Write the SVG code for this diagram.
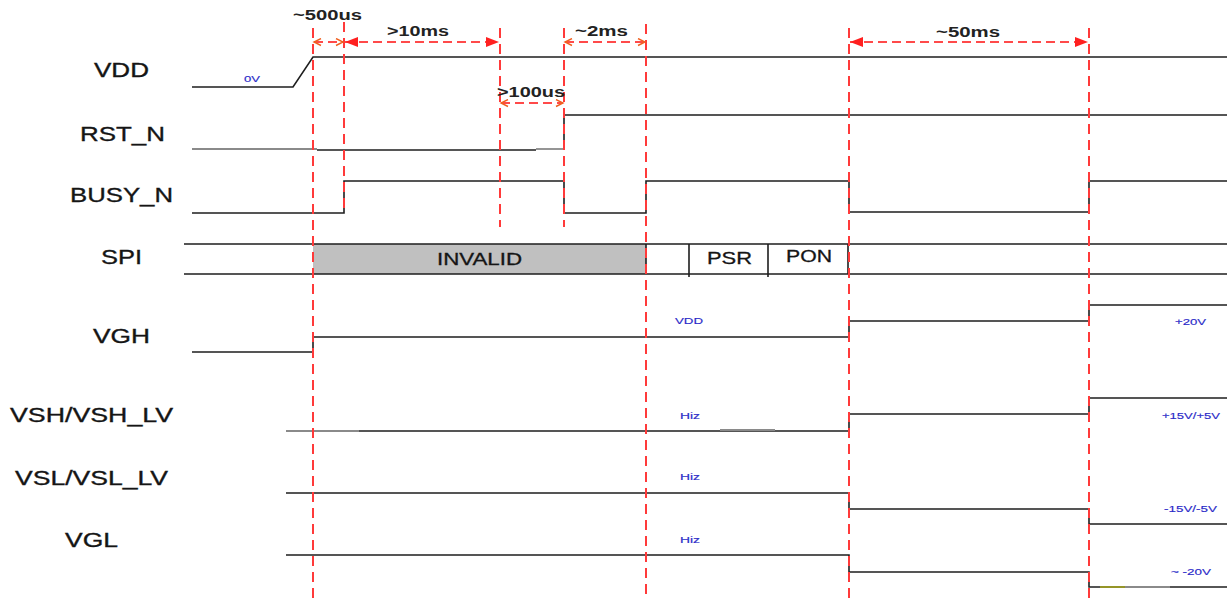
<svg xmlns="http://www.w3.org/2000/svg" width="1227" height="598" viewBox="0 0 1227 598">
<style>
.sig{fill:none;stroke:#1e1e1e;stroke-width:1.6}
.gry{fill:none;stroke:#8a8a8a;stroke-width:1.8}
.lbl{font-family:"Liberation Sans",Arial,sans-serif;font-size:21px;fill:#151515;stroke:#151515;stroke-width:0.35}
.tm{font-family:"Liberation Sans",Arial,sans-serif;font-size:14px;font-weight:bold;fill:#222}
.box{font-family:"Liberation Sans",Arial,sans-serif;font-size:17px;fill:#151515;stroke:#151515;stroke-width:0.3}
.sm{font-family:"Liberation Sans",Arial,sans-serif;font-size:9.5px;fill:#2a2ac8;stroke:#2a2ac8;stroke-width:0.15}
.vl{fill:none;stroke:#ff3a3a;stroke-width:2;stroke-dasharray:10,6}
.ar{fill:none;stroke:#ff4a4a;stroke-width:2;stroke-dasharray:9,5}
</style>
<defs>
<marker id="tri" markerUnits="userSpaceOnUse" markerWidth="14" markerHeight="12" refX="13" refY="5" orient="auto-start-reverse" viewBox="0 0 14 10">
<path d="M0,0 L13,5 L0,10 z" fill="#ff2020"/>
</marker>
<marker id="chev" markerUnits="userSpaceOnUse" markerWidth="10" markerHeight="9" refX="8" refY="4" orient="auto-start-reverse" viewBox="0 0 10 8">
<path d="M1,0.5 L8,4 L1,7.5" fill="none" stroke="#f06020" stroke-width="1.4"/>
</marker>
</defs>
<rect width="1227" height="598" fill="#fff"/>

<g id="labels">
<text class="lbl" x="94" y="77" textLength="55" lengthAdjust="spacingAndGlyphs">VDD</text>
<text class="lbl" x="80" y="141" textLength="85" lengthAdjust="spacingAndGlyphs">RST_N</text>
<text class="lbl" x="70" y="202" textLength="103" lengthAdjust="spacingAndGlyphs">BUSY_N</text>
<text class="lbl" x="101" y="264" textLength="41" lengthAdjust="spacingAndGlyphs">SPI</text>
<text class="lbl" x="93" y="343" textLength="57" lengthAdjust="spacingAndGlyphs">VGH</text>
<text class="lbl" x="10" y="422" textLength="163" lengthAdjust="spacingAndGlyphs">VSH/VSH_LV</text>
<text class="lbl" x="15" y="485" textLength="153" lengthAdjust="spacingAndGlyphs">VSL/VSL_LV</text>
<text class="lbl" x="65" y="547" textLength="53" lengthAdjust="spacingAndGlyphs">VGL</text>
</g>

<g id="vdd">
<path class="sig" d="M192,87 H293 L313,57 H1227"/>
<text class="sm" x="244" y="82" textLength="16" lengthAdjust="spacingAndGlyphs">0V</text>
</g>

<g id="rst_n">
<path class="gry" d="M192,149 H317"/>
<path class="sig" d="M317,150 H536"/>
<path class="gry" d="M536,149 H564"/>
<path class="sig" d="M564,149 V115 H1227"/>
</g>

<g id="busy_n">
<path class="sig" d="M192,213 H344 V181 H564 V213 H646 V181 H849 V212 H1089 V181 H1227"/>
</g>

<g id="spi">
<rect x="313" y="244" width="333" height="30" fill="#c0c0c0" stroke="none"/>
<path class="sig" d="M184,244 H1227 M184,274 H1227 M646,244 V274 M689,244 V277 M768,244 V277 M848,244 V274"/>
<text class="box" x="437" y="265" textLength="85" lengthAdjust="spacingAndGlyphs">INVALID</text>
<text class="box" x="707" y="264" textLength="45" lengthAdjust="spacingAndGlyphs">PSR</text>
<text class="box" x="786" y="262" textLength="46" lengthAdjust="spacingAndGlyphs">PON</text>
</g>

<g id="vgh">
<path class="sig" d="M192,352 H313 V337 H849 V321 H1089 V305 H1227"/>
<text class="sm" x="675" y="324" textLength="28" lengthAdjust="spacingAndGlyphs">VDD</text>
<text class="sm" x="1175" y="325" textLength="31" lengthAdjust="spacingAndGlyphs">+20V</text>
</g>

<g id="vsh">
<path class="gry" d="M286,431 H359"/>
<path class="sig" d="M359,431 H849 V414 H1089 V398 H1227"/>
<path class="gry" d="M720,430 H775" stroke-width="1.2"/>
<text class="sm" x="680" y="419" textLength="20" lengthAdjust="spacingAndGlyphs">Hiz</text>
<text class="sm" x="1162" y="419" textLength="58" lengthAdjust="spacingAndGlyphs">+15V/+5V</text>
</g>

<g id="vsl">
<path class="sig" d="M286,493 H849 V509 H1089 V524 H1227"/>
<text class="sm" x="680" y="480" textLength="20" lengthAdjust="spacingAndGlyphs">Hiz</text>
<text class="sm" x="1164" y="512" textLength="53" lengthAdjust="spacingAndGlyphs">-15V/-5V</text>
</g>

<g id="vgl">
<path class="sig" d="M286,555 H849 V572 H1089 V587 H1100"/>
<path d="M1100,587 H1125" stroke="#8a8a10" stroke-width="1.8"/>
<path class="gry" d="M1125,587 H1170"/>
<path class="sig" d="M1170,587 H1227"/>
<text class="sm" x="680" y="543" textLength="20" lengthAdjust="spacingAndGlyphs">Hiz</text>
<text class="sm" x="1171" y="575" textLength="40" lengthAdjust="spacingAndGlyphs">~ -20V</text>
</g>

<g id="connectors">
<path class="vl" d="M313,28 V598"/>
<path class="vl" d="M344,22 V213"/>
<path class="vl" d="M500,28 V227"/>
<path class="vl" d="M564,28 V227"/>
<path class="vl" d="M646,24 V598"/>
<path class="vl" d="M849,28 V598"/>
<path class="vl" d="M1089,28 V598"/>
<path class="ar" d="M314,42 H343" marker-start="url(#chev)" marker-end="url(#chev)"/>
<path class="ar" d="M345,42 H499" marker-start="url(#tri)" marker-end="url(#tri)"/>
<path class="ar" d="M565,42 H645" marker-start="url(#chev)" marker-end="url(#chev)"/>
<path class="ar" d="M850,42 H1088" marker-start="url(#tri)" marker-end="url(#tri)"/>
<path class="ar" d="M501,103 H563" marker-start="url(#chev)" marker-end="url(#chev)"/>
<text class="tm" x="293" y="20" textLength="69" lengthAdjust="spacingAndGlyphs">~500us</text>
<text class="tm" x="387" y="36" textLength="62" lengthAdjust="spacingAndGlyphs">&gt;10ms</text>
<text class="tm" x="575" y="36" textLength="53" lengthAdjust="spacingAndGlyphs">~2ms</text>
<text class="tm" x="497" y="97" textLength="68" lengthAdjust="spacingAndGlyphs">&gt;100us</text>
<text class="tm" x="936" y="37" textLength="64" lengthAdjust="spacingAndGlyphs">~50ms</text>
</g>
</svg>
